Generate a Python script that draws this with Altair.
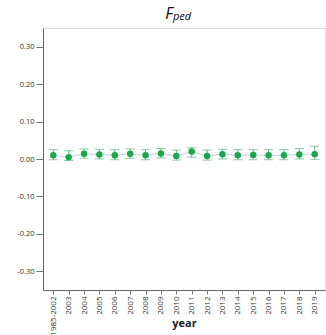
import altair as alt
import pandas as pd

years = ["1985-2002", "2003", "2004", "2005", "2006", "2007", "2008", "2009", "2010",
         "2011", "2012", "2013", "2014", "2015", "2016", "2017", "2018", "2019"]
means = [0.010, 0.005, 0.014, 0.012, 0.010, 0.014, 0.010, 0.015, 0.008,
         0.020, 0.008, 0.013, 0.010, 0.011, 0.010, 0.010, 0.012, 0.013]
lower = [-0.002, -0.004, 0.002, 0.000, -0.002, 0.002, -0.002, 0.003, -0.003,
         0.005, -0.003, 0.000, -0.002, -0.002, -0.002, -0.002, 0.000, -0.001]
upper = [0.025, 0.022, 0.027, 0.026, 0.025, 0.027, 0.025, 0.028, 0.024,
         0.030, 0.024, 0.026, 0.025, 0.025, 0.025, 0.025, 0.028, 0.034]

df = pd.DataFrame({"year": years, "mean": means, "lo": lower, "hi": upper})

FONT = "Open Sans"
GREEN = "#1ea64f"
BAR = "#55b97a"

x = alt.X("year:N", sort=years, title="year",
          scale=alt.Scale(type="point", padding=0.67),
          axis=alt.Axis(labelAngle=-90, labelFontSize=8, labelColor="#333",
                        titleFontSize=11, titleFontWeight="bold", titleColor="#222",
                        tickColor="#777", domainColor="#666", tickSize=4,
                        labelPadding=2, titleY=27, titleBaseline="top",
                        labelFont=FONT, titleFont=FONT))
yscale = alt.Scale(domain=[-0.35, 0.35], nice=False, zero=False)
yaxis = alt.Axis(values=[-0.3, -0.2, -0.1, 0, 0.1, 0.2, 0.3],
                 labelExpr="replace(format(datum.value, '.2f'), '\u2212', '-')",
                 labelFontSize=7.5, labelColor="#333", tickColor="#777", domainColor="#666",
                 tickSize=7, grid=False, title=None, labelFont=FONT, labelPadding=2)

base = alt.Chart(df)

line = base.mark_line(color="#c3d1de", strokeWidth=1).encode(
    x=x, y=alt.Y("mean:Q", scale=yscale, axis=yaxis))
rules = base.mark_rule(color=BAR, strokeWidth=1).encode(
    x=x, y=alt.Y("lo:Q", scale=yscale), y2="hi:Q")
caps_lo = base.mark_tick(color=BAR, orient="horizontal", size=9, thickness=1).encode(
    x=x, y=alt.Y("lo:Q", scale=yscale))
caps_hi = base.mark_tick(color=BAR, orient="horizontal", size=9, thickness=1).encode(
    x=x, y=alt.Y("hi:Q", scale=yscale))
points = base.mark_circle(color=GREEN, size=42, opacity=1).encode(
    x=x, y=alt.Y("mean:Q", scale=yscale))

title_df = pd.DataFrame({"t": ["F"]})
title_f = alt.Chart(title_df).mark_text(
    font=FONT, fontSize=16, fontStyle="italic", align="right", baseline="alphabetic",
    color="#111").encode(text="t:N", x=alt.value(130), y=alt.value(-9))
sub_df = pd.DataFrame({"t": ["ped"]})
title_sub = alt.Chart(sub_df).mark_text(
    font=FONT, fontSize=11, fontStyle="italic", align="left", baseline="alphabetic",
    color="#111").encode(text="t:N", x=alt.value(130), y=alt.value(-8))

chart = alt.layer(line, rules, caps_lo, caps_hi, points, title_f, title_sub).properties(
    width=282, height=262,
    autosize=alt.AutoSizeParams(type="none"),
    padding={"left": 43, "top": 28, "right": 1, "bottom": 45},
).configure_view(stroke=None).configure(background="white")

chart.save("out.html", embed_options={"renderer": "svg", "actions": False})
